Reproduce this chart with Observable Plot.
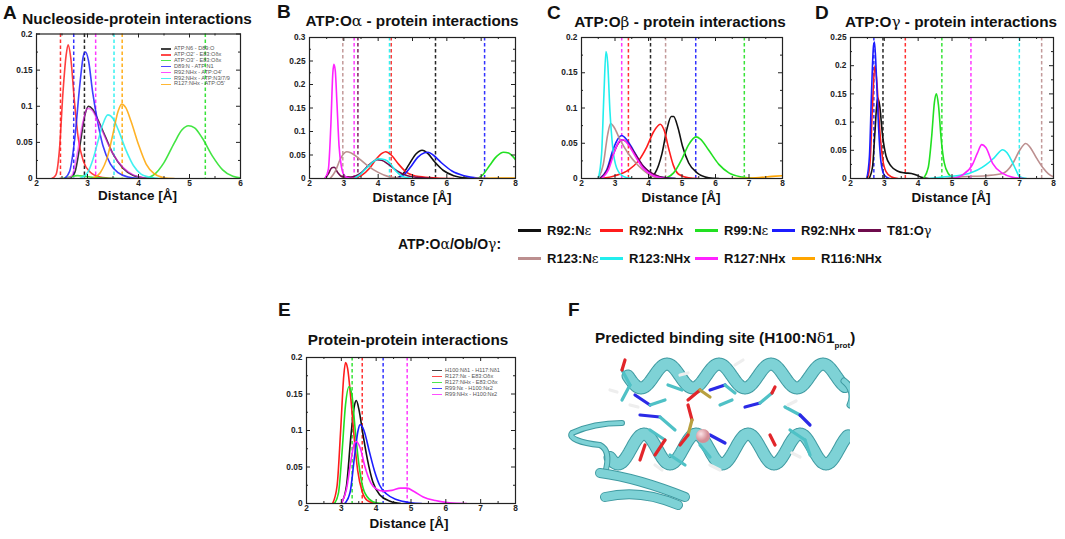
<!DOCTYPE html>
<html>
<head>
<meta charset="utf-8">
<script src="https://cdn.jsdelivr.net/npm/d3@7"></script>
<script src="https://cdn.jsdelivr.net/npm/@observablehq/plot@0.6"></script>
<style>
  body { margin: 0; background: #fff; }
  #fig { position: relative; width: 1065px; height: 539px; overflow: hidden; background: #fff;
         font-family: "Liberation Sans", Arial, Helvetica, sans-serif; color: #111; }
  .abs { position: absolute; white-space: nowrap; line-height: 1; }
  .letter { font-size: 19px; font-weight: bold; transform: translate(0, -50%); }
  .title { font-size: 15.3px; font-weight: bold; transform: translate(-50%, -50%); }
  .xlab { font-size: 13.5px; font-weight: bold; transform: translate(-50%, -50%); }
  .gk { font-family: "DejaVu Serif", serif; font-weight: normal; }
  .plotbox svg text { font-weight: bold; }
  .mini { font-size: 5.6px; color: #555; transform: translate(0, -50%); }
  .miniline { position: absolute; height: 1.3px; }
  .leg { font-size: 13px; font-weight: bold; transform: translate(0, -50%); }
  .legline { position: absolute; height: 3px; }
</style>
</head>
<body>
<div id="fig"></div>
<script>
// ---------------- DATA ----------------
// Panel A: Nucleoside-protein interactions (x: distance Å, y: probability)
const A_labels = ["ATP:N6 - D89:O", "ATP:O2' - E83:Oδx", "ATP:O3' - E83:Oδx", "D89:N - ATP:N1",
                  "R92:NHx - ATP:O4'", "R92:NHx - ATP:N3/7/9", "R127:NHx - ATP:O5'"];
const A_black   = [[2.65,0],[2.75,0.008],[2.85,0.045],[2.95,0.088],[3.02,0.1],[3.1,0.096],[3.2,0.082],[3.35,0.058],[3.5,0.034],[3.7,0.014],[3.9,0.004],[4.1,0.001],[4.3,0]];
const A_red     = [[2.3,0],[2.38,0.005],[2.45,0.04],[2.52,0.12],[2.58,0.17],[2.62,0.185],[2.67,0.168],[2.74,0.11],[2.82,0.055],[2.92,0.024],[3.05,0.009],[3.25,0.002],[3.5,0]];
const A_green   = [[2.5,0],[2.65,0.002],[2.8,0.004],[2.95,0.003],[3.2,0.001],[3.6,0],[4.1,0],[4.3,0.005],[4.5,0.022],[4.7,0.049],[4.85,0.067],[4.98,0.073],[5.1,0.07],[5.25,0.056],[5.45,0.031],[5.65,0.012],[5.85,0.003],[6,0.001]];
const A_blue    = [[2.55,0],[2.65,0.01],[2.75,0.055],[2.85,0.13],[2.92,0.17],[2.96,0.175],[3.02,0.163],[3.1,0.12],[3.2,0.078],[3.3,0.046],[3.45,0.02],[3.6,0.008],[3.8,0.002],[4.0,0]];
const A_magenta = [[2.6,0],[2.7,0.005],[2.8,0.035],[2.9,0.075],[3.0,0.097],[3.08,0.095],[3.2,0.08],[3.35,0.056],[3.5,0.034],[3.7,0.015],[3.9,0.005],[4.1,0.001],[4.3,0]];
const A_cyan    = [[2.85,0],[3.0,0.008],[3.1,0.025],[3.2,0.05],[3.3,0.075],[3.4,0.088],[3.5,0.083],[3.6,0.068],[3.75,0.04],[3.9,0.018],[4.05,0.006],[4.2,0.002],[4.4,0]];
const A_orange  = [[3.1,0],[3.25,0.008],[3.4,0.032],[3.5,0.062],[3.6,0.093],[3.67,0.103],[3.75,0.098],[3.85,0.08],[4.0,0.047],[4.15,0.02],[4.3,0.007],[4.5,0.001],[4.7,0]];
const A_dashX   = [2.94, 2.47, 5.31, 2.73, 3.16, 3.52, 3.68];
const A_xTicks  = [2, 3, 4, 5, 6];
const A_yTicks  = [0, 0.05, 0.1, 0.15, 0.2];

// Panels B, C, D: ATP:Oα / Oβ / Oγ - protein interactions
const BCD_labels = ["R92:Nε", "R92:NHx", "R99:Nε", "R92:NHx", "T81:Oγ", "R123:Nε", "R123:NHx", "R127:NHx", "R116:NHx"];
const B_black   = [[4.5,0],[4.7,0.008],[4.9,0.03],[5.1,0.052],[5.28,0.06],[5.45,0.053],[5.65,0.035],[5.9,0.017],[6.2,0.006],[6.6,0.001],[7,0]];
const B_red     = [[3.2,0],[3.5,0.006],[3.75,0.022],[3.95,0.042],[4.12,0.054],[4.22,0.057],[4.38,0.05],[4.6,0.03],[4.85,0.012],[5.2,0.004],[5.7,0.001],[6.2,0]];
const B_green   = [[6.9,0],[7.05,0.008],[7.25,0.028],[7.45,0.047],[7.65,0.056],[7.8,0.054],[7.92,0.047],[8,0.04]];
const B_blue    = [[4.55,0],[4.75,0.008],[4.95,0.025],[5.15,0.045],[5.35,0.055],[5.45,0.056],[5.6,0.05],[5.85,0.033],[6.15,0.016],[6.5,0.006],[6.9,0.001],[7.2,0]];
const B_maroon  = [[2.45,0],[2.55,0.01],[2.65,0.023],[2.72,0.024],[2.82,0.013],[2.95,0.004],[3.2,0.003],[3.5,0.012],[3.75,0.03],[3.97,0.04],[4.1,0.039],[4.3,0.03],[4.55,0.016],[4.85,0.006],[5.2,0.002],[5.6,0]];
const B_rosy    = [[2.6,0],[2.75,0.015],[2.9,0.042],[3.08,0.057],[3.2,0.055],[3.45,0.042],[3.7,0.027],[4.0,0.013],[4.3,0.004],[4.6,0.001],[4.9,0]];
const B_cyan    = [[3.3,0],[3.5,0.01],[3.7,0.025],[3.9,0.038],[4.0,0.042],[4.2,0.04],[4.35,0.032],[4.5,0.017],[4.7,0.005],[5,0]];
const B_magenta = [[2.45,0],[2.55,0.02],[2.62,0.11],[2.68,0.225],[2.71,0.243],[2.75,0.23],[2.8,0.16],[2.86,0.07],[2.93,0.025],[3.02,0.006],[3.15,0.001],[3.3,0]];
const B_orange  = [[6.8,0],[7.5,0.001],[8,0.001]];
const B_dashX   = [5.67, 4.38, null, 7.10, 3.41, 2.97, 4.33, 3.30, null];

const C_black   = [[4.0,0],[4.2,0.008],[4.4,0.035],[4.55,0.07],[4.68,0.088],[4.75,0.088],[4.88,0.072],[5.02,0.045],[5.2,0.022],[5.45,0.008],[5.8,0.001],[6.1,0]];
const C_red     = [[2.6,0],[3.0,0.004],[3.4,0.012],[3.7,0.025],[3.95,0.045],[4.15,0.066],[4.35,0.077],[4.47,0.068],[4.6,0.043],[4.74,0.019],[4.9,0.006],[5.2,0.001],[5.5,0]];
const C_green   = [[4.5,0],[4.75,0.008],[5.0,0.028],[5.2,0.048],[5.42,0.059],[5.55,0.056],[5.8,0.04],[6.1,0.02],[6.4,0.008],[6.8,0.002],[7.2,0]];
const C_blue    = [[2.55,0],[2.75,0.012],[2.95,0.042],[3.1,0.057],[3.2,0.061],[3.35,0.055],[3.55,0.04],[3.8,0.02],[4.1,0.007],[4.5,0.001],[4.8,0]];
const C_maroon  = [[2.55,0],[2.75,0.01],[2.95,0.035],[3.1,0.05],[3.22,0.055],[3.38,0.05],[3.6,0.035],[3.85,0.017],[4.15,0.006],[4.5,0.001],[4.8,0]];
const C_rosy    = [[2.5,0],[2.65,0.02],[2.78,0.062],[2.87,0.078],[2.98,0.072],[3.15,0.055],[3.4,0.035],[3.7,0.018],[4.0,0.006],[4.3,0]];
const C_cyan    = [[2.5,0],[2.6,0.035],[2.67,0.12],[2.73,0.18],[2.78,0.165],[2.85,0.095],[2.93,0.045],[3.05,0.015],[3.25,0.003],[3.5,0]];
const C_magenta = [[2.6,0],[2.8,0.012],[3.0,0.04],[3.15,0.054],[3.25,0.055],[3.4,0.048],[3.6,0.032],[3.85,0.014],[4.15,0.004],[4.5,0]];
const C_orange  = [[6.5,0],[7.2,0.001],[7.7,0.003],[8,0.004]];
const C_dashX   = [4.06, 3.40, 6.86, 5.41, null, 4.51, null, 3.20, null];

const D_black   = [[2.55,0],[2.65,0.02],[2.72,0.08],[2.8,0.143],[2.86,0.13],[2.95,0.075],[3.05,0.04],[3.2,0.022],[3.4,0.013],[3.6,0.01],[3.8,0.009],[3.95,0.006],[4.1,0.002],[4.3,0]];
const D_red     = [[2.5,0],[2.58,0.03],[2.65,0.13],[2.72,0.2],[2.78,0.17],[2.86,0.09],[2.95,0.035],[3.05,0.012],[3.2,0.003],[3.4,0]];
const D_green   = [[4.15,0],[4.3,0.02],[4.4,0.075],[4.48,0.135],[4.54,0.15],[4.6,0.13],[4.68,0.07],[4.77,0.028],[4.9,0.008],[5.05,0.001],[5.2,0]];
const D_blue    = [[2.48,0],[2.56,0.04],[2.62,0.15],[2.68,0.235],[2.71,0.242],[2.76,0.19],[2.83,0.09],[2.9,0.03],[3.0,0.006],[3.15,0]];
const D_rosy    = [[4.8,0],[5.3,0.003],[6.0,0.005],[6.5,0.009],[6.8,0.027],[7.0,0.05],[7.18,0.062],[7.3,0.056],[7.5,0.036],[7.7,0.018],[7.85,0.008],[8,0.003]];
const D_cyan    = [[4.3,0],[4.8,0.003],[5.5,0.009],[6.0,0.024],[6.25,0.037],[6.5,0.051],[6.62,0.046],[6.75,0.033],[6.9,0.014],[7.0,0.003],[7.2,0]];
const D_magenta = [[5.0,0],[5.3,0.006],[5.6,0.024],[5.75,0.045],[5.88,0.06],[6.0,0.055],[6.2,0.027],[6.5,0.009],[6.8,0.002],[7.1,0]];
const D_dashX   = [2.96, 3.62, 4.70, 2.69, null, 7.65, 6.99, 5.56, null];

const BD_xTicks = [2, 3, 4, 5, 6, 7, 8];
const B_yTicks  = [0, 0.05, 0.1, 0.15, 0.2, 0.25, 0.3];
const C_yTicks  = [0, 0.05, 0.1, 0.15, 0.2];
const D_yTicks  = [0, 0.05, 0.1, 0.15, 0.2, 0.25];

// Panel E: Protein-protein interactions
const E_labels  = ["H100:Nδ1 - H117:Nδ1", "R127:Nε - E83:Oδx", "R127:NHx - E83:Oδx", "R99:Nε - H100:Nε2", "R99:NHx - H100:Nε2"];
const E_black   = [[3.0,0],[3.15,0.025],[3.28,0.095],[3.38,0.135],[3.43,0.141],[3.5,0.13],[3.62,0.095],[3.75,0.06],[3.9,0.03],[4.1,0.012],[4.4,0.003],[4.7,0]];
const E_red     = [[2.75,0],[2.88,0.025],[2.98,0.1],[3.07,0.175],[3.12,0.193],[3.18,0.185],[3.27,0.145],[3.37,0.09],[3.47,0.045],[3.6,0.016],[3.75,0.004],[4.0,0]];
const E_green   = [[2.8,0],[2.92,0.015],[3.02,0.07],[3.12,0.135],[3.22,0.16],[3.3,0.15],[3.4,0.1],[3.5,0.055],[3.62,0.022],[3.8,0.006],[4.0,0.001],[4.2,0]];
const E_blue    = [[3.1,0],[3.25,0.015],[3.38,0.065],[3.48,0.1],[3.54,0.108],[3.65,0.1],[3.8,0.072],[3.95,0.045],[4.1,0.025],[4.3,0.013],[4.6,0.005],[5.0,0.001],[5.3,0]];
const E_magenta = [[3.0,0],[3.15,0.02],[3.28,0.06],[3.38,0.083],[3.43,0.085],[3.55,0.075],[3.68,0.05],[3.85,0.028],[4.0,0.02],[4.2,0.017],[4.45,0.018],[4.7,0.021],[4.88,0.021],[5.1,0.016],[5.35,0.009],[5.7,0.004],[6.1,0.001],[6.6,0]];
const E_dashX   = [null, 3.60, 3.31, 4.20, 4.89];
const E_yTicks  = [0, 0.05, 0.1, 0.15, 0.2];

// ---------------- STYLE ----------------
const COL = { black: "#111111", red: "#ff1c1c", green: "#22e022", blue: "#1c1cff", maroon: "#6e0b4c",
              rosy: "#bc8f8f", cyan: "#22eeee", magenta: "#ff22ff", orange: "#ffa500" };
const A_cols   = [COL.black, COL.red, COL.green, COL.blue, COL.magenta, COL.cyan, COL.orange];
const BCD_cols = [COL.black, COL.red, COL.green, COL.blue, COL.maroon, COL.rosy, COL.cyan, COL.magenta, COL.orange];
const E_cols   = [COL.black, COL.red, COL.green, COL.blue, COL.magenta];

const fig = document.getElementById("fig");
const fmtY = d => d === 0 ? "0" : String(+d.toFixed(3));

function makePanel(cfg) {
  const { left, top, width, height, ml, mr, mt, mb, xDomain, yDomain, xTicks, yTicks,
          series, cols, dashX, opacity = 1 } = cfg;
  const pw = width - ml - mr, ph = height - mt - mb;
  const xMinor = xTicks.slice(0, -1).map((v, i) => (v + xTicks[i + 1]) / 2);
  const yMinor = yTicks.slice(0, -1).map((v, i) => (v + yTicks[i + 1]) / 2);
  const marks = [];
  dashX.forEach((v, i) => {
    if (v != null) marks.push(Plot.ruleX([v], { stroke: cols[i], strokeWidth: 1.5, strokeDasharray: "3.5,2.5", strokeOpacity: 0.9 }));
  });
  series.forEach((pts, i) => {
    if (pts) marks.push(Plot.line(pts, { x: d => d[0], y: d => d[1], stroke: cols[i], strokeWidth: 1.6,
      strokeOpacity: (cols[i] === COL.magenta && cfg.magOp) ? cfg.magOp : opacity, curve: "monotone-x", clip: true }));
  });
  marks.push(Plot.frame({ stroke: "#222", strokeWidth: 1.2 }));
  const T = 4, t = 2, tk = { stroke: "#222", strokeWidth: 1 };
  marks.push(Plot.tickX(xTicks, { x: d => d, insetTop: ph - T, ...tk }));
  marks.push(Plot.tickX(xTicks, { x: d => d, insetBottom: ph - T, ...tk }));
  marks.push(Plot.tickX(xMinor, { x: d => d, insetTop: ph - t, ...tk }));
  marks.push(Plot.tickX(xMinor, { x: d => d, insetBottom: ph - t, ...tk }));
  marks.push(Plot.tickY(yTicks, { y: d => d, insetRight: pw - T, ...tk }));
  marks.push(Plot.tickY(yTicks, { y: d => d, insetLeft: pw - T, ...tk }));
  marks.push(Plot.tickY(yMinor, { y: d => d, insetRight: pw - t, ...tk }));
  marks.push(Plot.tickY(yMinor, { y: d => d, insetLeft: pw - t, ...tk }));
  marks.push(Plot.axisX(xTicks, { anchor: "bottom", tickSize: 0, tickPadding: 2, label: null, fill: "#222" }));
  marks.push(Plot.axisY(yTicks, { anchor: "left", tickSize: 0, tickPadding: 4, label: null, tickFormat: fmtY, fill: "#222" }));
  const svg = Plot.plot({
    width, height, marginLeft: ml, marginRight: mr, marginTop: mt, marginBottom: mb,
    x: { domain: xDomain }, y: { domain: yDomain },
    style: { background: "transparent", fontSize: "8.3px", fontFamily: "'Liberation Sans', Arial, sans-serif", overflow: "visible" },
    marks
  });
  const box = document.createElement("div");
  box.className = "plotbox";
  box.style.cssText = `position:absolute;left:${left}px;top:${top}px;`;
  box.appendChild(svg);
  fig.appendChild(box);
}

function addText(html, cls, x, y) {
  const d = document.createElement("div");
  d.className = "abs " + cls;
  d.style.left = x + "px";
  d.style.top = y + "px";
  d.innerHTML = html;
  fig.appendChild(d);
  return d;
}

// ---------------- PANELS ----------------
makePanel({ left: 0, top: 0, width: 250, height: 205, ml: 36, mr: 10, mt: 33.5, mb: 27,
  xDomain: [2, 6], yDomain: [0, 0.2], xTicks: A_xTicks, yTicks: A_yTicks,
  series: [A_black, A_red, A_green, A_blue, A_magenta, A_cyan, A_orange], cols: A_cols, dashX: A_dashX,
  opacity: 0.85, magOp: 0.6 });
makePanel({ left: 260, top: 0, width: 265, height: 205, ml: 49, mr: 10, mt: 37, mb: 27,
  xDomain: [2, 8], yDomain: [0, 0.3], xTicks: BD_xTicks, yTicks: B_yTicks,
  series: [B_black, B_red, B_green, B_blue, B_maroon, B_rosy, B_cyan, B_magenta, B_orange], cols: BCD_cols, dashX: B_dashX });
makePanel({ left: 525, top: 0, width: 267, height: 205, ml: 56, mr: 10, mt: 37, mb: 27,
  xDomain: [2, 8], yDomain: [0, 0.2], xTicks: BD_xTicks, yTicks: C_yTicks,
  series: [C_black, C_red, C_green, C_blue, C_maroon, C_rosy, C_cyan, C_magenta, C_orange], cols: BCD_cols, dashX: C_dashX });
makePanel({ left: 790, top: 0, width: 273, height: 205, ml: 60, mr: 10, mt: 37, mb: 27,
  xDomain: [2, 8], yDomain: [0, 0.25], xTicks: BD_xTicks, yTicks: D_yTicks,
  series: [D_black, D_red, D_green, D_blue, null, D_rosy, D_cyan, D_magenta, null], cols: BCD_cols, dashX: D_dashX });
makePanel({ left: 270, top: 280, width: 255, height: 245, ml: 36, mr: 10, mt: 77, mb: 22,
  xDomain: [2, 8], yDomain: [0, 0.2], xTicks: BD_xTicks, yTicks: E_yTicks,
  series: [E_black, E_red, E_green, E_blue, E_magenta], cols: E_cols, dashX: E_dashX });

// ---------------- TEXT ----------------
const gk = s => `<span class="gk">${s}</span>`;
addText("A", "letter", 3, 11.5);
addText("B", "letter", 277, 10.5);
addText("C", "letter", 547, 11.5);
addText("D", "letter", 815, 11.5);
addText("E", "letter", 278, 308.5);
addText("F", "letter", 568, 308.5);

addText("Nucleoside-protein interactions", "title", 137, 18.5);
addText(`ATP:O${gk("α")} - protein interactions`, "title", 412, 21);
addText(`ATP:O${gk("β")} - protein interactions`, "title", 680, 22);
addText(`ATP:O${gk("γ")} - protein interactions`, "title", 951, 21.5);
addText("Protein-protein interactions", "title", 408, 340);
const ft = addText(`Predicted binding site (H100:N${gk("δ")}1<sub style="font-size:8px">prot</sub>)`, "title", 595, 340);
ft.style.transform = "translate(0,-50%)";

addText("Distance [Å]", "xlab", 137.5, 196);
addText("Distance [Å]", "xlab", 412, 198);
addText("Distance [Å]", "xlab", 681, 198);
addText("Distance [Å]", "xlab", 951, 198);
addText("Distance [Å]", "xlab", 409, 524);

// mini legends (A and E)
function miniLegend(labels, cols, lineX, textX, y0, dy) {
  labels.forEach((lab, i) => {
    const y = y0 + i * dy;
    const ln = document.createElement("div");
    ln.className = "miniline";
    ln.style.cssText += `left:${lineX}px;top:${y - 0.6}px;width:10px;background:${cols[i]};opacity:0.8`;
    fig.appendChild(ln);
    addText(lab, "mini", textX, y);
  });
}
miniLegend(A_labels, A_cols, 161, 174, 49, 5.9);
miniLegend(E_labels, E_cols, 432, 445, 370.7, 6.0);

// shared legend in the middle
addText(`ATP:O${gk("α")}/Ob/O${gk("γ")}:`, "leg", 398, 244).style.fontSize = "14px";
const legSlots = [[518, 230], [600, 230], [695, 230], [772, 230], [858, 230],
                  [518, 258], [600, 258], [695, 258], [792, 258]];
BCD_labels.forEach((name, k) => {
  const [x, y] = legSlots[k];
  const ln = document.createElement("div");
  ln.className = "legline";
  ln.style.cssText += `left:${x}px;top:${y - 1.5}px;width:23px;background:${BCD_cols[k]}`;
  fig.appendChild(ln);
  addText(name.replace(/([εγ])/g, m => gk(m)), "leg", x + 29, y);
});

// ---------------- PANEL F (schematic illustration of the binding site) ----------------
(function () {
  const ns = "http://www.w3.org/2000/svg";
  const svg = document.createElementNS(ns, "svg");
  svg.setAttribute("width", 290); svg.setAttribute("height", 165);
  svg.style.cssText = "position:absolute;left:560px;top:345px;";
  const el = (tag, attrs) => { const e = document.createElementNS(ns, tag); for (const k in attrs) e.setAttribute(k, attrs[k]); svg.appendChild(e); return e; };
  const wave = (x0, x1, yc, b, pitch, phase) => {
    let d = "";
    for (let x = x0; x <= x1; x += 1) {
      const py = yc + b * Math.sin((x - x0) / pitch * 2 * Math.PI + phase);
      d += (x === x0 ? "M" : "L") + x.toFixed(1) + "," + py.toFixed(1);
    }
    return d;
  };
  const ribbon = (d, w, light) => {
    el("path", { d, fill: "none", stroke: "#3f9aa1", "stroke-width": w + 2, "stroke-linejoin": "round", "stroke-linecap": "round" });
    el("path", { d, fill: "none", stroke: light, "stroke-width": w, "stroke-linejoin": "round", "stroke-linecap": "round" });
  };
  // helices as wide wavy ribbons
  ribbon(wave(68, 285, 31, 12, 52, 0), 11, "#7ed2d6");
  ribbon(wave(50, 288, 104, 15, 52, 0.6), 11, "#7ed2d6");
  ribbon("M284,36 C292,42 294,52 290,60", 5, "#7ed2d6");
  // loop and beta strands
  ribbon("M62,78 C40,78 25,82 12,88 C8,93 20,98 40,100 C50,105 48,118 45,128", 4, "#7ed2d6");
  ribbon("M40,128 C70,132 95,140 125,152", 8, "#7ed2d6");
  ribbon("M45,152 C70,146 95,150 118,160", 8, "#7ed2d6");
  // side-chain sticks
  const sticks = [
    [62,25,70,40,"#4fc1c6"],[70,40,62,55,"#4fc1c6"],[62,25,65,15,"#e2262b"],[75,50,90,60,"#2a2ae6"],[90,60,105,55,"#4fc1c6"],
    [80,70,100,72,"#2a2ae6"],[100,72,115,85,"#4fc1c6"],[90,85,105,95,"#4fc1c6"],[105,95,95,110,"#e2262b"],[85,100,80,115,"#e2262b"],
    [108,40,122,45,"#4fc1c6"],[128,55,140,45,"#e2262b"],[140,45,150,52,"#b8a040"],[128,60,132,75,"#e2262b"],[132,75,128,90,"#b8a040"],
    [128,90,120,100,"#e2262b"],[150,45,165,40,"#2a2ae6"],[165,40,175,48,"#4fc1c6"],[160,60,172,55,"#4fc1c6"],[150,90,165,98,"#2a2ae6"],
    [140,100,150,112,"#4fc1c6"],[110,110,125,120,"#4fc1c6"],[185,62,200,58,"#2a2ae6"],[200,58,212,48,"#4fc1c6"],[212,48,215,42,"#e2262b"],
    [225,62,240,70,"#4fc1c6"],[240,70,250,80,"#2a2ae6"],[230,85,245,95,"#4fc1c6"],[245,95,250,110,"#4fc1c6"],[210,90,215,100,"#e2262b"],
    [70,60,78,62,"#eeeeee"],[120,30,128,28,"#eeeeee"],[175,20,183,15,"#eeeeee"],[95,120,102,125,"#eeeeee"],[150,120,160,125,"#eeeeee"],
    [228,60,236,56,"#eeeeee"],[232,108,240,112,"#eeeeee"],[50,45,57,47,"#eeeeee"]
  ];
  sticks.forEach(([x1, y1, x2, y2, c]) => el("line", { x1, y1, x2, y2, stroke: c, "stroke-width": 3.2, "stroke-linecap": "round" }));
  const defs = el("defs", {});
  const rg = document.createElementNS(ns, "radialGradient");
  rg.setAttribute("id", "ion"); rg.setAttribute("cx", "35%"); rg.setAttribute("cy", "35%");
  [["0%", "#fbe3e6"], ["100%", "#d58e96"]].forEach(([o, c]) => { const s = document.createElementNS(ns, "stop"); s.setAttribute("offset", o); s.setAttribute("stop-color", c); rg.appendChild(s); });
  defs.appendChild(rg);
  el("circle", { cx: 143, cy: 91, r: 7, fill: "url(#ion)" });
  fig.appendChild(svg);
})();
</script>
</body>
</html>
